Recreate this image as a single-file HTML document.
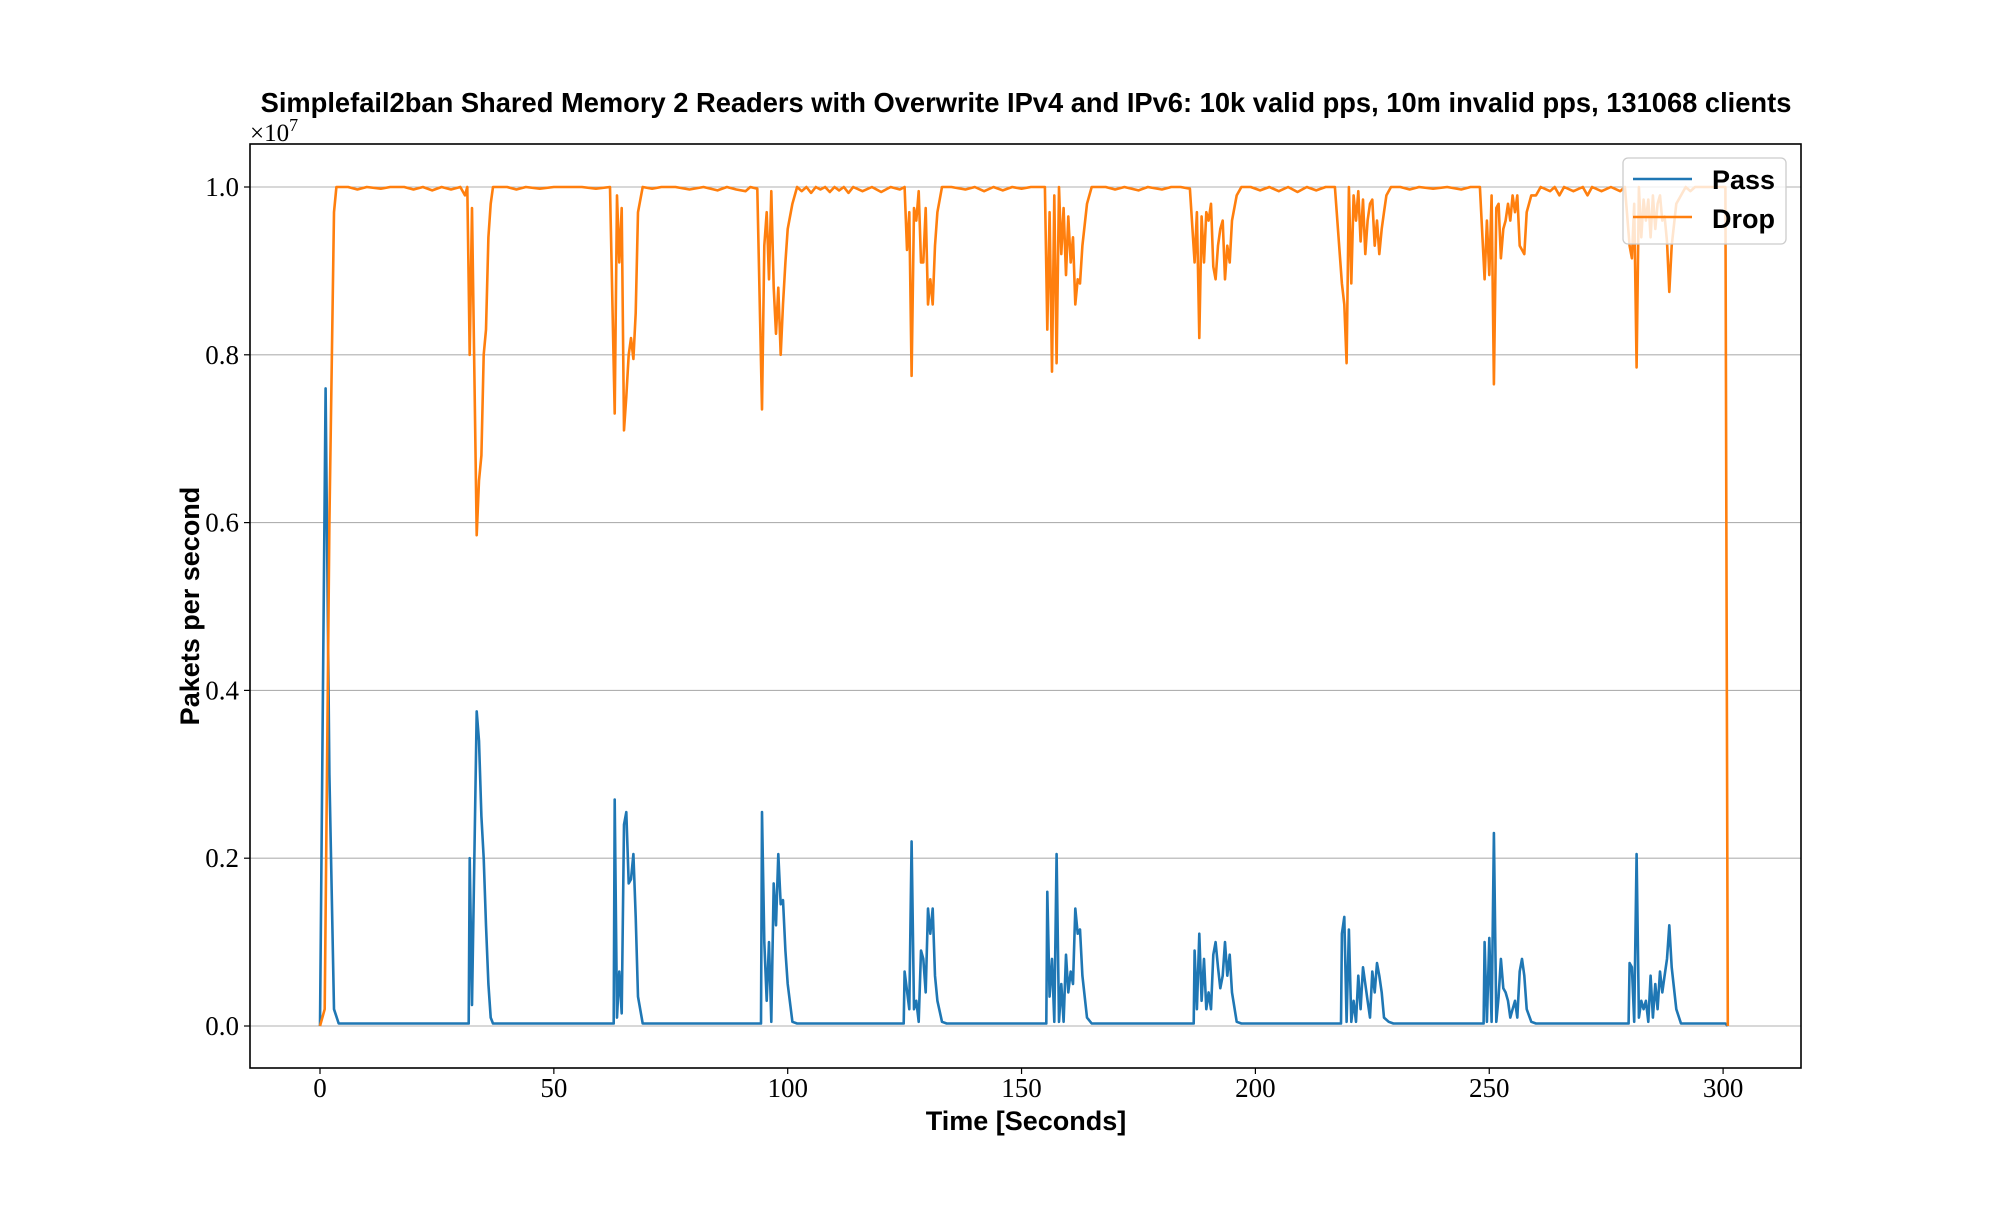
<!DOCTYPE html>
<html><head><meta charset="utf-8"><style>
body{margin:0;background:#fff}
svg text{font-family:"Liberation Serif",serif}
.b{font-family:"Liberation Sans",sans-serif;font-weight:bold}
</style></head><body>
<svg id="chart" width="2000" height="1200" viewBox="0 0 2000 1200" xmlns="http://www.w3.org/2000/svg">
<rect width="2000" height="1200" fill="#fff"/>
<defs><clipPath id="clip"><rect x="250" y="144" width="1551" height="924"/></clipPath></defs>
<g id="grid"></g>
<g id="series" clip-path="url(#clip)"></g>
<rect x="250" y="144" width="1551" height="924" fill="none" stroke="#000" stroke-width="1.6"/>
<g id="ticks"></g>
<text class="b" x="1026" y="112" font-size="27.3" text-anchor="middle">Simplefail2ban Shared Memory 2 Readers with Overwrite IPv4 and IPv6: 10k valid pps, 10m invalid pps, 131068 clients</text>
<text x="250" y="141" font-size="25">×10<tspan dy="-10" font-size="18">7</tspan></text>
<text class="b" x="1026" y="1130" font-size="27" text-anchor="middle">Time [Seconds]</text>
<text class="b" x="0" y="0" font-size="27" text-anchor="middle" transform="translate(199,606) rotate(-90)">Pakets per second</text>
<g>
<rect x="1623" y="158" width="163" height="86" rx="5" fill="#fff" fill-opacity="0.8" stroke="#ccc" stroke-width="1.3"/>
<line x1="1633" y1="179" x2="1692" y2="179" stroke="#1f77b4" stroke-width="2.6"/>
<text class="b" x="1712" y="189" font-size="27">Pass</text>
<line x1="1633" y1="217" x2="1692" y2="217" stroke="#ff7f0e" stroke-width="2.6"/>
<text class="b" x="1712" y="228" font-size="27">Drop</text>
</g>
</svg>
<script>
const xTicks=[0,50,100,150,200,250,300];
const yTicks=[0.0,0.2,0.4,0.6,0.8,1.0];
const yTickLabels=["0.0","0.2","0.4","0.6","0.8","1.0"];
const dropTimes=[0,1,2,3,3.5,6,8,10,13,15,18,20,22,24,26,28,30,31,31.5,
32,32.5,33.5,34,34.5,35,35.5,36,36.5,37,40,42,44,47,50,53,56,59,62,
63,63.5,64,64.5,65,65.5,66,66.5,67,67.5,68,69,71,73,76,79,82,85,87,89,91,92,93.5,
94.5,95,95.5,96,96.5,97,97.5,98,98.5,99,99.5,100,101,102,
103,104,105,106,107,108,109,110,111,112,113,114,116,118,120,122,124,125,
125.5,126,126.5,127,127.5,128,128.5,129,129.5,130,130.5,131,131.5,132,133,
135,138,140,142,144,146,148,150,152,155,
155.5,156,156.5,157,157.5,158,158.5,159,159.5,160,160.5,161,161.5,162,162.5,163,164,165,
168,170,172,175,177,180,182,184,186,
187,187.5,188,188.5,189,189.5,190,190.5,191,191.5,192,192.5,193,193.5,194,194.5,195,196,197,
199,201,203,205,207,209,211,213,215,217,
218.5,219,219.5,220,220.5,221,221.5,222,222.5,223,223.5,224,224.5,225,225.5,226,226.5,227,227.5,228,229,
231,233,235,238,241,244,246,248,
249,249.5,250,250.5,251,251.5,252,252.5,253,253.5,254,254.5,255,255.5,256,256.5,257,257.5,258,259,260,261,
263,264,265,266,268,270,271,272,274,276,278,279,
280,280.5,281,281.5,282,282.5,283,283.5,284,284.5,285,285.5,286,286.5,287,287.5,288,288.5,289,290,291,292,
293,294,296,298,300.5,301];
const dropValues=[0,0.02,0.6,0.97,1.0,1.0,0.997,1.0,0.998,1.0,1.0,0.997,1.0,0.996,1.0,0.997,1.0,0.99,1.0,
0.8,0.975,0.585,0.65,0.68,0.8,0.83,0.94,0.98,1.0,1.0,0.997,1.0,0.998,1.0,1.0,1.0,0.998,1.0,
0.73,0.99,0.91,0.975,0.71,0.75,0.8,0.82,0.795,0.85,0.97,1.0,0.998,1.0,1.0,0.997,1.0,0.996,1.0,0.997,0.995,1.0,0.998,
0.735,0.93,0.97,0.89,0.995,0.88,0.825,0.88,0.8,0.86,0.91,0.95,0.98,1.0,
0.995,1.0,0.993,1.0,0.997,1.0,0.994,1.0,0.996,1.0,0.993,1.0,0.995,1.0,0.994,1.0,0.997,1.0,
0.925,0.97,0.775,0.975,0.96,0.995,0.91,0.91,0.975,0.86,0.89,0.86,0.93,0.97,1.0,
1.0,0.997,1.0,0.995,1.0,0.996,1.0,0.998,1.0,1.0,
0.83,0.97,0.78,0.99,0.79,1.0,0.92,0.975,0.895,0.965,0.91,0.94,0.86,0.89,0.885,0.93,0.98,1.0,
1.0,0.997,1.0,0.996,1.0,0.997,1.0,1.0,0.998,
0.91,0.97,0.82,0.965,0.91,0.97,0.96,0.98,0.905,0.89,0.93,0.95,0.96,0.89,0.93,0.91,0.96,0.99,1.0,
1.0,0.996,1.0,0.995,1.0,0.994,1.0,0.996,1.0,1.0,
0.885,0.86,0.79,1.0,0.885,0.99,0.96,0.995,0.935,0.985,0.92,0.96,0.98,0.985,0.93,0.96,0.92,0.95,0.97,0.99,1.0,
1.0,0.997,1.0,0.998,1.0,0.997,1.0,1.0,
0.89,0.96,0.895,0.99,0.765,0.975,0.98,0.915,0.95,0.96,0.98,0.96,0.99,0.97,0.99,0.93,0.925,0.92,0.97,0.99,0.99,1.0,
0.995,1.0,0.99,1.0,0.995,1.0,0.99,1.0,0.995,1.0,0.995,1.0,
0.93,0.915,0.98,0.785,1.0,0.94,0.985,0.96,0.985,0.94,0.99,0.95,0.98,0.99,0.96,0.965,0.935,0.875,0.93,0.98,0.99,1.0,
0.995,1.0,1.0,1.0,1.0,0];
const passTimes=[0,1.2,2,3,4,31.8,
32,32.5,33.5,34,34.5,35,35.5,36,36.5,37,62.8,
63,63.5,64,64.5,65,65.5,66,66.5,67,67.5,68,69,94.3,
94.5,95,95.5,96,96.5,97,97.5,98,98.5,99,99.5,100,101,102,124.8,
125,126,126.5,127,127.5,128,128.5,129,129.5,130,130.5,131,131.5,132,133,134,155.3,
155.5,156,156.5,157,157.5,158,158.5,159,159.5,160,160.5,161,161.5,162,162.5,163,164,165,186.8,
187,187.5,188,188.5,189,189.5,190,190.5,191,191.5,192,192.5,193,193.5,194,194.5,195,196,197,218.3,
218.5,219,219.5,220,220.5,221,221.5,222,222.5,223,223.5,224,224.5,225,225.5,226,226.5,227,227.5,228.5,229.5,248.8,
249,249.5,250,250.5,251,251.5,252,252.5,253,253.5,254,254.5,255,255.5,256,256.5,257,257.5,258,259,260,279.8,
280,280.5,281,281.5,282,282.5,283,283.5,284,284.5,285,285.5,286,286.5,287,287.5,288,288.5,289,290,291,300.5,301];
const passValues=[0,0.76,0.3,0.02,0.003,0.003,
0.2,0.025,0.375,0.34,0.25,0.2,0.12,0.05,0.01,0.003,0.003,
0.27,0.01,0.065,0.015,0.24,0.255,0.17,0.175,0.205,0.13,0.035,0.003,0.003,
0.255,0.1,0.03,0.1,0.005,0.17,0.12,0.205,0.145,0.15,0.09,0.05,0.005,0.003,0.003,
0.065,0.02,0.22,0.02,0.03,0.005,0.09,0.08,0.04,0.14,0.11,0.14,0.06,0.03,0.005,0.003,0.003,
0.16,0.035,0.08,0.005,0.205,0.005,0.05,0.005,0.085,0.04,0.065,0.05,0.14,0.11,0.115,0.06,0.01,0.003,0.003,
0.09,0.02,0.11,0.03,0.08,0.02,0.04,0.02,0.085,0.1,0.07,0.045,0.06,0.1,0.06,0.085,0.04,0.005,0.003,0.003,
0.11,0.13,0.005,0.115,0.005,0.03,0.005,0.06,0.02,0.07,0.05,0.03,0.01,0.065,0.04,0.075,0.06,0.04,0.01,0.005,0.003,0.003,
0.1,0.005,0.105,0.005,0.23,0.005,0.035,0.08,0.045,0.04,0.03,0.01,0.02,0.03,0.01,0.065,0.08,0.06,0.02,0.005,0.003,0.003,
0.075,0.07,0.005,0.205,0.01,0.03,0.02,0.03,0.005,0.06,0.01,0.05,0.02,0.065,0.04,0.06,0.08,0.12,0.07,0.02,0.003,0.003,0];
const NS="http://www.w3.org/2000/svg";
function xs(t){return 320+t*4.677;}
function ys(v){return 1026-v*839;}
const grid=document.getElementById('grid'),ticks=document.getElementById('ticks'),series=document.getElementById('series');
function mk(tag,attrs,parent){const e=document.createElementNS(NS,tag);for(const k in attrs)e.setAttribute(k,attrs[k]);parent.appendChild(e);return e;}
yTicks.forEach((v,i)=>{
  const g=mk('line',{x1:250,x2:1801,y1:ys(v),y2:ys(v),stroke:'#b0b0b0','stroke-width':1.1},grid);
  
  
  const tk=mk('line',{x1:244,x2:250,y1:ys(v),y2:ys(v),stroke:'#000','stroke-width':1.2},ticks);
  
  
  const tx=mk('text',{x:239,y:ys(v)+9,'font-size':27,'text-anchor':'end'},ticks);
  tx.textContent=yTickLabels[i];
  
  
});
xTicks.forEach(t=>{
  const tk=mk('line',{x1:xs(t),x2:xs(t),y1:1068,y2:1074,stroke:'#000','stroke-width':1.2},ticks);
  
  
  const tx=mk('text',{x:xs(t),y:1097,'font-size':27,'text-anchor':'middle'},ticks);
  tx.textContent=String(t);
  
  
});
function line(ts,vs){return ts.map((t,i)=>(i?'L':'M')+xs(t).toFixed(1)+','+ys(vs[i]).toFixed(1)).join(' ');}
const pp=mk('path',{d:line(passTimes,passValues),fill:'none',stroke:'#1f77b4','stroke-width':2.6,'stroke-linejoin':'round'},series);


const dp=mk('path',{d:line(dropTimes,dropValues),fill:'none',stroke:'#ff7f0e','stroke-width':2.6,'stroke-linejoin':'round'},series);


</script>
</body></html>
